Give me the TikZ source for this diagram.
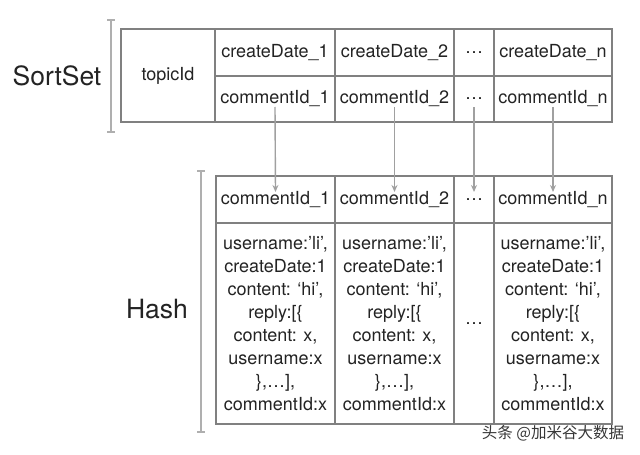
\documentclass[tikz,border=0pt]{standalone}
\usepackage{fontspec}
\setmainfont{TeX Gyre Heros}
\newfontfamily\cjk{Noto Sans CJK SC}
\usetikzlibrary{arrows.meta}
\definecolor{border}{RGB}{128,128,128}
\definecolor{txt}{RGB}{35,35,35}
\definecolor{brk}{RGB}{175,175,175}
\definecolor{arr}{RGB}{160,160,160}
\tikzset{
  cell/.style={draw=border, line width=1.5pt, inner sep=0pt, text=txt,
    font=\fontsize{18}{23}\selectfont, align=center},
  biglabel/.style={text=txt, font=\fontsize{26.5}{30}\selectfont, inner sep=0pt},
  bracketline/.style={draw=brk, line width=1.3pt},
  link/.style={draw=arr, line width=1.4pt, -{Stealth[length=7pt,width=6pt]}},
}
\begin{document}
\begin{tikzpicture}[x=1pt,y=-1pt]
\useasboundingbox[fill=white] (0,0) rectangle (640,455);
% ---- SortSet table ----
\node[cell, minimum width=94pt, minimum height=93pt] (topic) at (168,75.5) {topicId};
\node[cell, minimum width=120pt, minimum height=47pt] (cd1) at (275,52.5) {createDate\_1};
\node[cell, minimum width=119pt, minimum height=47pt] (cd2) at (394.5,52.5) {createDate\_2};
\node[cell, minimum width=40pt, minimum height=47pt] (cdd) at (474,52.5) {…};
\node[cell, minimum width=118pt, minimum height=47pt] (cdn) at (553,52.5) {createDate\_n};
\node[cell, minimum width=120pt, minimum height=46pt] (ci1) at (275,99) {commentId\_1};
\node[cell, minimum width=119pt, minimum height=46pt] (ci2) at (394.5,99) {commentId\_2};
\node[cell, minimum width=40pt, minimum height=46pt] (cid) at (474,99) {…};
\node[cell, minimum width=118pt, minimum height=46pt] (cin) at (553,99) {commentId\_n};
% ---- Hash table ----
\node[cell, minimum width=119pt, minimum height=47pt] (hc1) at (275.5,199.5) {commentId\_1};
\node[cell, minimum width=119pt, minimum height=47pt] (hc2) at (394.5,199.5) {commentId\_2};
\node[cell, minimum width=40pt, minimum height=47pt] (hcd) at (474,199.5) {…};
\node[cell, minimum width=118pt, minimum height=47pt] (hcn) at (553,199.5) {commentId\_n};
\newcommand{\bodytext}{username:’li’,\\createDate:1\\content: ‘hi’,\\reply:[\{\\content: x,\\username:x\\\},…],\\commentId:x}
\node[cell, minimum width=119pt, minimum height=201pt] (hb1) at (275.5,323.5) {\bodytext};
\node[cell, minimum width=119pt, minimum height=201pt] (hb2) at (394.5,323.5) {\bodytext};
\node[cell, minimum width=40pt, minimum height=201pt] (hbd) at (474,323.5) {…};
\node[cell, minimum width=118pt, minimum height=201pt] (hbn) at (553,323.5) {\bodytext};
% ---- labels and brackets ----
\node[biglabel] (sortset) at (57,76) {SortSet};
\node[biglabel] (hash) at (157,309) {Hash};
\draw[bracketline] (107,20) -- (115,20) (111,20) -- (111,132) (107,132) -- (115,132);
\draw[bracketline] (197,171) -- (205,171) (201,171) -- (201,432) (197,432) -- (205,432);
% ---- arrows ----
\draw[link] ([yshift=-8pt]ci1.center) -- ([yshift=7.5pt]hc1.center);
\draw[link] ([yshift=-8pt]ci2.center) -- ([yshift=7.5pt]hc2.center);
\draw[link] ([yshift=-8pt]cid.center) -- ([yshift=7.5pt]hcd.center);
\draw[link] ([yshift=-8pt]cin.center) -- ([yshift=7.5pt]hcn.center);
% ---- watermark ----
\node[text={rgb,255:red,55;green,55;blue,55}, font=\cjk\fontsize{15.5}{18}\selectfont, inner sep=0pt] (wm) at (553,433) {头条 @加米谷大数据};
\end{tikzpicture}
\end{document}
